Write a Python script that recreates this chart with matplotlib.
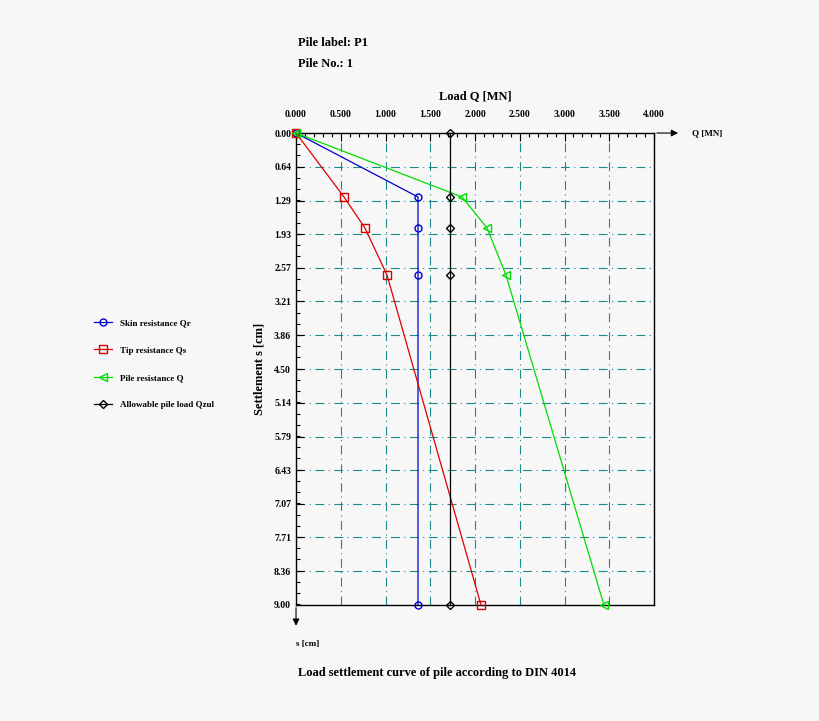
import matplotlib
matplotlib.use("Agg")
import matplotlib.pyplot as plt
from matplotlib.ticker import MultipleLocator

plt.rcParams['font.family'] = ['Liberation Serif', 'DejaVu Serif']

s_pts = [0.0, 1.22, 1.81, 2.71, 9.0]
skin = [0.0, 1.363, 1.363, 1.363, 1.363]
tip = [0.0, 0.536, 0.77, 1.017, 2.067]
total = [0.0, 1.855, 2.134, 2.346, 3.44]
allow = [1.72, 1.72, 1.72, 1.72, 1.72]
yticks = [0.00, 0.64, 1.29, 1.93, 2.57, 3.21, 3.86, 4.50, 5.14, 5.79, 6.43, 7.07, 7.71, 8.36, 9.00]
xticks = [0, 0.5, 1, 1.5, 2, 2.5, 3, 3.5, 4]

bg = '#f7f7f7'
fig = plt.figure(figsize=(8.2, 7.21), dpi=100, facecolor=bg)
ax = fig.add_axes([0.361, 0.1609, 0.4366, 0.6546], facecolor=bg)
ax.set_xlim(0, 4.0)
ax.set_ylim(9.0, 0)

gc = '#1a8a8a'
for x in xticks[1:]:
    ax.axvline(x, color=gc, lw=0.8, ls=(0, (8, 4, 1, 4)), zorder=0)
for y in yticks[1:-1]:
    ax.axhline(y, color=gc, lw=0.8, ls=(0, (8, 4, 1, 4)), zorder=0)

kw = dict(lw=0.9, mfc='none', clip_on=False, zorder=3)
ax.plot(skin, s_pts, color='#0000cc', marker='o', ms=5, label='Skin resistance Qr', **kw)
ax.plot(tip, s_pts, color='#dd0000', marker='s', ms=6, label='Tip resistance Qs', **kw)
ax.plot(total, s_pts, color='#00dd00', marker='<', ms=6, label='Pile resistance Q', **kw)
ax.plot(allow, s_pts, color='black', marker='D', ms=4, label='Allowable pile load Qzul', **kw)

for sp in ax.spines.values():
    sp.set_linewidth(1.0)
ax.xaxis.tick_top()
ax.xaxis.set_label_position('top')
ax.set_xticks(xticks)
ax.set_xticklabels([f"{v:.3f}" for v in xticks], fontsize=7, fontweight='bold')
ax.xaxis.set_minor_locator(MultipleLocator(0.1))
ax.set_yticks(yticks)
ax.set_yticklabels([f"{v:.2f}" for v in yticks], fontsize=7, fontweight='bold')
ax.yaxis.set_minor_locator(MultipleLocator(0.214))
ax.tick_params(direction='in', length=6, width=0.8)
ax.tick_params(which='minor', direction='in', length=3, width=0.8)
ax.tick_params(axis='x', pad=10)

ax.set_xlabel('Load Q [MN]', fontsize=9, fontweight='bold', labelpad=8)
ax.set_ylabel('Settlement s [cm]', fontsize=9, fontweight='bold', labelpad=6)

ax.annotate('', xy=(4.3, 0), xytext=(4.0, 0), xycoords='data', annotation_clip=False,
            arrowprops=dict(arrowstyle='-|>', lw=0.8, color='black'))
ax.text(4.42, 0, 'Q [MN]', fontsize=6.5, fontweight='bold', va='center', clip_on=False)
ax.annotate('', xy=(0, 9.45), xytext=(0, 9.0), annotation_clip=False,
            arrowprops=dict(arrowstyle='-|>', lw=0.8, color='black'))
ax.text(0, 9.75, 's [cm]', fontsize=6.5, fontweight='bold', va='center', ha='left', clip_on=False)

fig.text(0.363, 0.936, 'Pile label: P1', fontsize=9, fontweight='bold')
fig.text(0.363, 0.907, 'Pile No.: 1', fontsize=9, fontweight='bold')
fig.text(0.363, 0.063, 'Load settlement curve of pile according to DIN 4014', fontsize=9, fontweight='bold')

fig.legend(loc='center left', bbox_to_anchor=(0.105, 0.495), frameon=False,
           labelspacing=2.1, handlelength=2, prop={'weight': 'bold', 'size': 6.5})

fig.savefig('out.png', dpi=100, facecolor=bg)
